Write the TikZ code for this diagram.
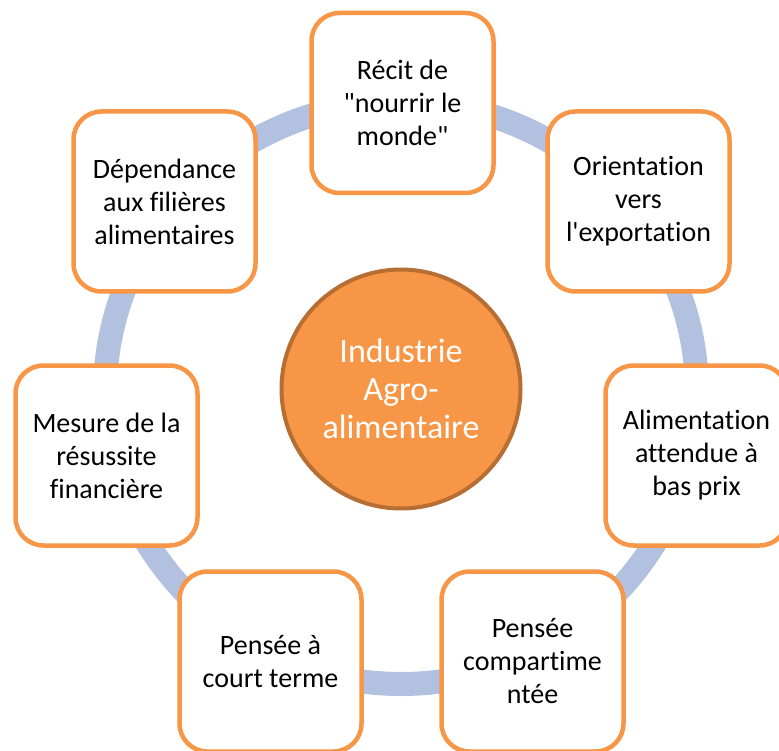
\documentclass[tikz,border=0pt]{standalone}
\usepackage{fontspec}
\setmainfont{Carlito}[Ligatures={NoCommon}]
\definecolor{boxorange}{RGB}{247,150,70}
\definecolor{circleedge}{RGB}{182,110,50}
\definecolor{ringblue}{RGB}{178,193,223}
\begin{document}
\begin{tikzpicture}[x=1pt, y=-1pt,
    facteur/.style={draw=boxorange, line width=4.5pt, fill=white, rounded corners=28pt,
        minimum width=182pt, minimum height=180pt, inner sep=0pt, align=center,
        font=\fontsize{28}{33}\selectfont},
    noyau/.style={circle, draw=circleedge, line width=4pt, fill=boxorange, minimum size=239pt,
        inner sep=0pt, align=center, text=white, font=\fontsize{34}{38}\selectfont},
    anneau/.style={draw=ringblue, line width=24pt}]
    \useasboundingbox (0,0) rectangle (779,751);
    \draw[anneau] (401,393) ellipse [x radius=296pt, y radius=291pt];
    \node[noyau] (industrie) at (401,389) {Industrie\\Agro-\\alimentaire};
    \node[facteur] (recit) at (402.5,103) {Récit de\\\textquotedbl nourrir le\\monde\textquotedbl};
    \node[facteur] (orient) at (638.5,201.5) {Orientation\\vers\\l\textquotesingle exportation};
    \node[facteur] (alim) at (696.5,455.5) {Alimentation\\attendue à\\bas prix};
    \node[facteur] (compart) at (532.5,661.5) {Pensée\\compartime\\ntée};
    \node[facteur] (court) at (270.5,661.5) {Pensée à\\court terme};
    \node[facteur] (mesure) at (106.5,455.5) {Mesure de la\\résussite\\financière};
    \node[facteur] (depend) at (164.5,201.5) {Dépendance\\aux filières\\alimentaires};
\end{tikzpicture}
\end{document}
